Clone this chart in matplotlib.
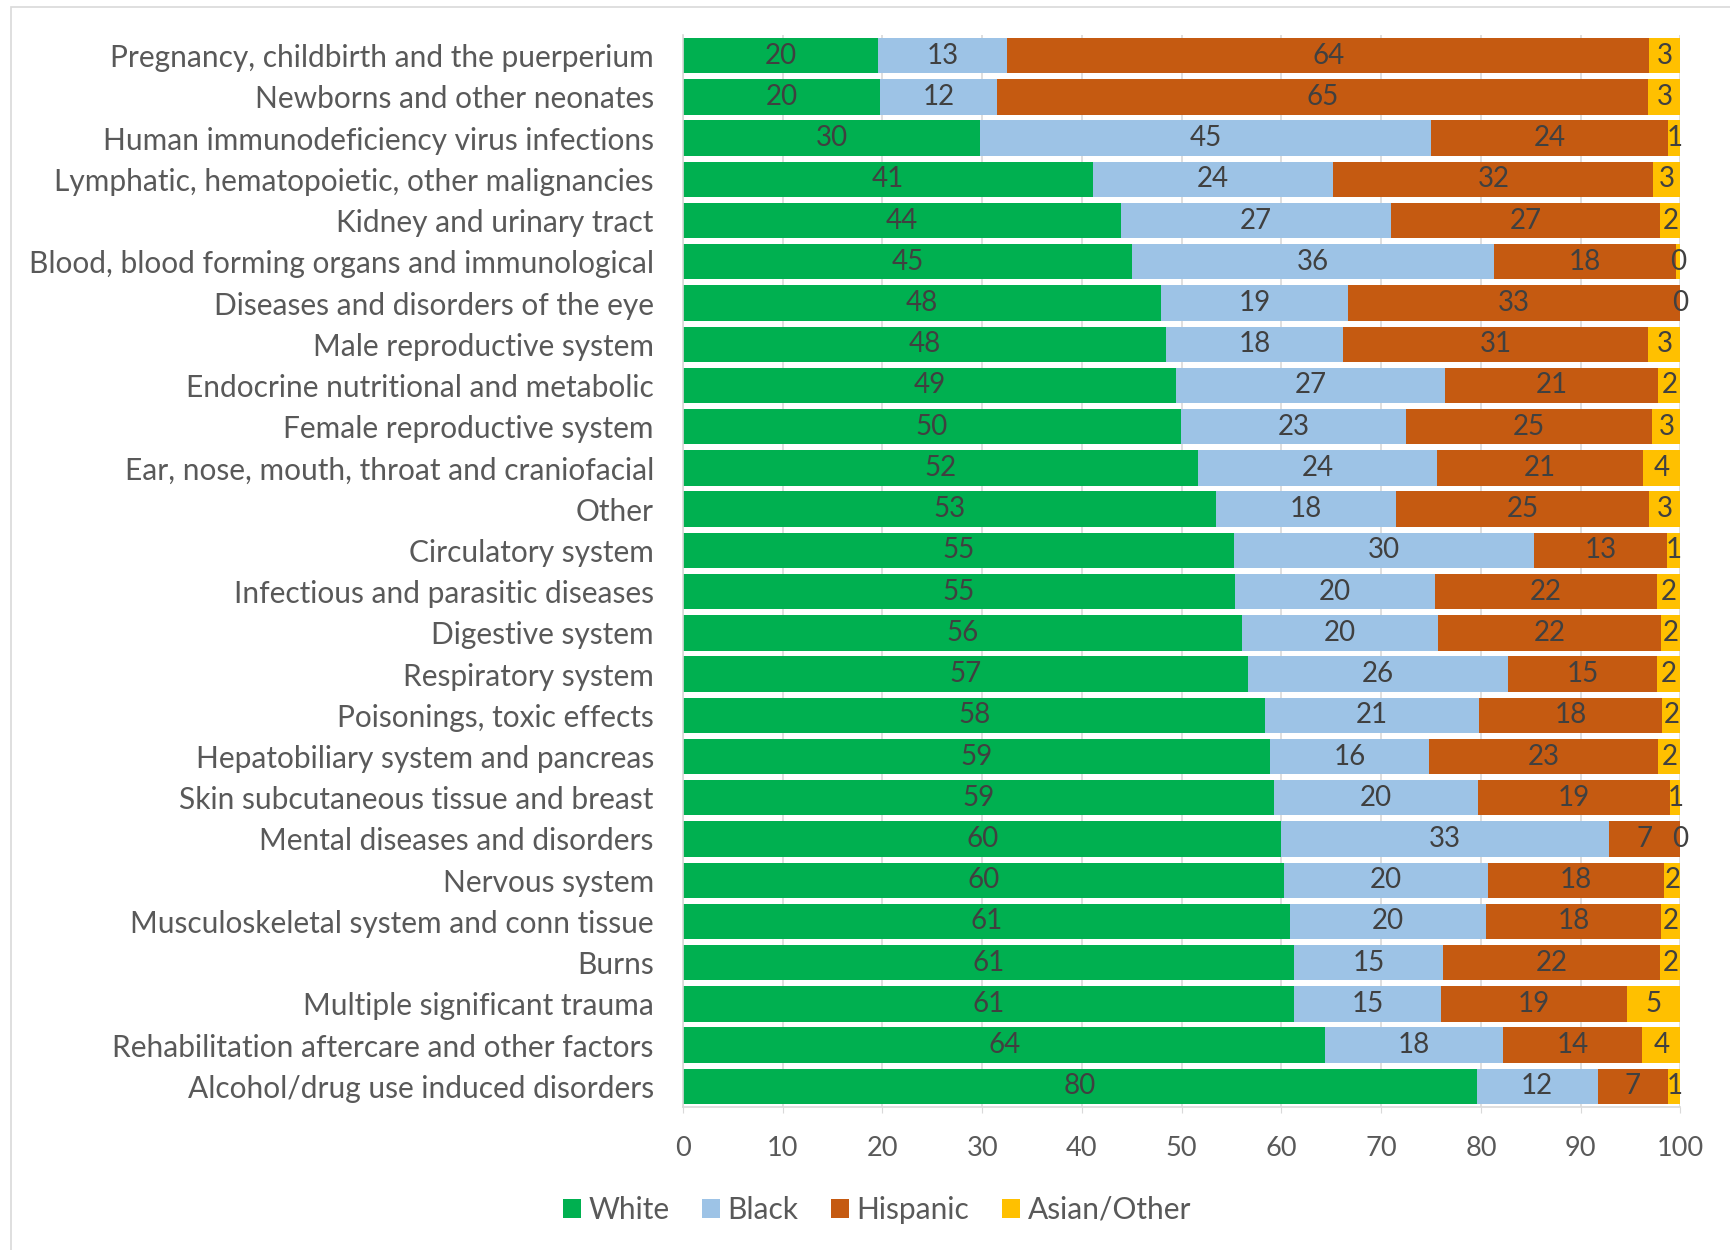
import numpy as np
import matplotlib
matplotlib.use("Agg")
import matplotlib.pyplot as plt
from matplotlib.patches import Rectangle

# --- Data ----------------------------------------------------------------------------------------
categories = [
    "Pregnancy, childbirth and the puerperium",
    "Newborns and other neonates",
    "Human immunodeficiency virus infections",
    "Lymphatic, hematopoietic, other malignancies",
    "Kidney and urinary tract",
    "Blood, blood forming organs and immunological",
    "Diseases and disorders of the eye",
    "Male reproductive system",
    "Endocrine nutritional and metabolic",
    "Female reproductive system",
    "Ear, nose, mouth, throat and craniofacial",
    "Other",
    "Circulatory system",
    "Infectious and parasitic diseases",
    "Digestive system",
    "Respiratory system",
    "Poisonings, toxic effects",
    "Hepatobiliary system and pancreas",
    "Skin subcutaneous tissue and breast",
    "Mental diseases and disorders",
    "Nervous system",
    "Musculoskeletal system and conn tissue",
    "Burns",
    "Multiple significant trauma",
    "Rehabilitation aftercare and other factors",
    "Alcohol/drug use induced disorders",
]

# percent of discharges by race/ethnicity
white = [19.6, 19.8, 29.8, 41.1, 43.9, 45.0, 47.9, 48.4, 49.4, 49.9, 51.6, 53.4, 55.2,
         55.3, 56.0, 56.6, 58.4, 58.9, 59.3, 60.0, 60.3, 60.9, 61.3, 61.3, 64.4, 79.6]
black = [12.9, 11.7, 45.2, 24.1, 27.1, 36.3, 18.8, 17.8, 27.0, 22.6, 24.0, 18.1, 30.1,
         20.1, 19.7, 26.1, 21.4, 15.9, 20.4, 32.8, 20.4, 19.6, 14.9, 14.7, 17.8, 12.1]
hispanic = [64.4, 65.3, 23.8, 32.1, 27.0, 18.3, 33.3, 30.6, 21.4, 24.7, 20.7, 25.4, 13.4,
            22.3, 22.4, 15.0, 18.4, 23.0, 19.3, 7.2, 17.7, 17.6, 21.8, 18.7, 14.0, 7.1]
asian_other = [3.1, 3.2, 1.2, 2.7, 2.0, 0.4, 0.0, 3.2, 2.2, 2.8, 3.7, 3.1, 1.3,
               2.3, 1.9, 2.3, 1.8, 2.2, 1.0, 0.0, 1.6, 1.9, 2.0, 5.3, 3.8, 1.2]

series_names = ["White", "Black", "Hispanic", "Asian/Other"]
series_colors = ["#00B050", "#9DC3E6", "#C55A11", "#FFC000"]
x_ticks = [0, 10, 20, 30, 40, 50, 60, 70, 80, 90, 100]

# --- Plot ----------------------------------------------------------------------------------------
plt.rcParams["font.family"] = ["Lato", "DejaVu Sans"]
text_color = "#595959"
label_color = "#404040"
grid_color = "#D9D9D9"

fig = plt.figure(figsize=(17.3, 12.5), dpi=100)
ax = fig.add_axes([0.3948, 0.1144, 0.5765, 0.8576])

# chart area border
fig.patches.append(Rectangle((11 / 1730, -0.05), 1.2, 1.05 - 7 / 1250, transform=fig.transFigure,
                             fill=False, edgecolor=grid_color, linewidth=1.2))

y = np.arange(len(categories))
left = np.zeros(len(categories))
for values, name, color in zip([white, black, hispanic, asian_other], series_names, series_colors):
    vals = np.array(values)
    bars = ax.barh(y, vals, left=left, height=0.86, color=color, label=name, zorder=2)
    ax.bar_label(bars, labels=[f"{v:.0f}" for v in vals], label_type="center",
                 color=label_color, fontsize=20)
    left += vals

ax.set_xlim(0, 100)
ax.set_ylim(len(categories) - 0.5, -0.5)
ax.set_xticks(x_ticks)
ax.set_yticks(y)
ax.set_yticklabels(categories)

ax.xaxis.grid(True, color=grid_color, linewidth=1.2, zorder=0)
ax.set_axisbelow(True)
ax.tick_params(axis="y", length=0, pad=21, labelsize=21.5, labelcolor=text_color)
ax.tick_params(axis="x", length=4, pad=17, labelsize=19.5, labelcolor=text_color, color=grid_color)

for side in ["top", "right"]:
    ax.spines[side].set_visible(False)
for side in ["left", "bottom"]:
    ax.spines[side].set_color(grid_color)
    ax.spines[side].set_linewidth(1.2)

fig.legend(loc="center", bbox_to_anchor=(877 / 1730, 1 - 1210 / 1250), ncol=4, frameon=False,
           fontsize=21.5, labelcolor=text_color, handlelength=0.6, handleheight=0.6,
           handletextpad=0.25, columnspacing=1.1)

fig.savefig("out.png", dpi=100)
